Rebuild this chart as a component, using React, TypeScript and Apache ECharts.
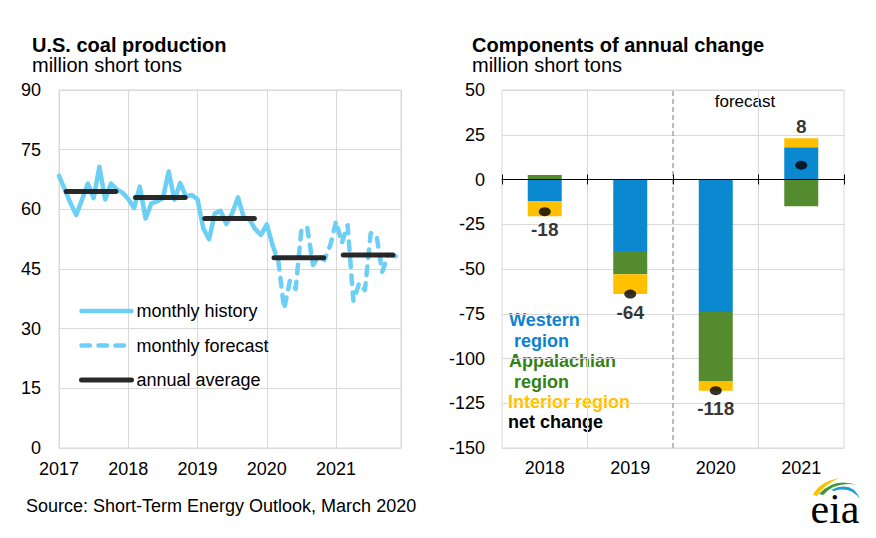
import React, { useEffect, useRef } from "react";
import * as echarts from "echarts";

// ---------- data ----------
const years = ["2017", "2018", "2019", "2020", "2021"];
const monthlyHistory = [
  68.4, 65, 61.5, 58.6, 62.5, 66.5, 62.8, 70.7, 62.5, 66.5, 65, 64.2,
  62.6, 60.3, 65.7, 57.7, 61.5, 62, 62.8, 69.5, 62.4, 66.6, 63.2, 63.6,
  62.5, 55.2, 52.5, 59, 59.6, 56.3, 59, 63, 58, 57.4, 55, 53.6,
  56.2, 51,
];
const forecastStartMonth = 37;
const monthlyForecast = [
  51, 47, 35, 42, 40, 55, 55.5, 46, 48.2, 47.3, 51,
  57, 51.5, 56, 37, 41.4, 39.7, 54, 53.5, 44.3, 48.5, 48.3, 48,
];
const annualAverage = [64.5, 63.0, 57.7, 47.8, 48.5];

const changeYears = ["2018", "2019", "2020", "2021"];
const westernRegion = [-12, -40, -74, 18];
const appalachianRegion = [2.5, -13, -38.5, -15];
const interiorRegion = [-8.5, -11, -5.5, 5];
const netChange = [-18, -64, -118, 8];

// ---------- styles ----------
const FONT = "'Liberation Sans', Arial, sans-serif";
const GRID_GRAY = "#d9d9d9";
const LIGHT_BLUE = "#6ccff6";
const BLUE = "#0a89d1";
const GREEN = "#548b2e";
const YELLOW = "#ffc000";

echarts.graphic.registerShape(
  "eiaYellow",
  echarts.graphic.extendPath("M813 495 Q819 482 839 478 Q824 485 817 496 Z", {})
);
echarts.graphic.registerShape(
  "eiaGreen",
  echarts.graphic.extendPath("M819 494 Q834 477 857 485 Q836 481 823 495 Z", {})
);
echarts.graphic.registerShape(
  "eiaBlue",
  echarts.graphic.extendPath("M831 490 Q852 480 860 499 Q850 486 834 491 Z", {})
);

function txt(text: string, x: number, y: number, size: number, weight: string, fill: string, align = "left") {
  return {
    type: "text",
    x,
    y,
    silent: true,
    style: {
      text,
      fontSize: size,
      fontWeight: weight,
      fontFamily: FONT,
      fill,
      align,
      verticalAlign: "middle",
    },
  };
}

export default function App() {
  const ref = useRef<HTMLDivElement>(null);

  useEffect(() => {
    document.body.style.margin = "0";
    if (!ref.current) return;
    const chart = echarts.init(ref.current, undefined, { renderer: "svg" });

    const annualSeries = annualAverage.map((v, i) => ({
      name: "annual average",
      type: "line",
      xAxisIndex: 0,
      yAxisIndex: 0,
      symbol: "none",
      z: 4,
      lineStyle: { color: "#1e1e1e", width: 5, cap: "round", opacity: 0.95 },
      data: [
        [i * 12 + 1.25, v],
        [i * 12 + 9.85, v],
      ],
    }));

    const option: any = {
      animation: false,
      textStyle: { fontFamily: FONT },
      grid: [
        { left: 59, top: 90, width: 342, height: 358, show: true, borderColor: GRID_GRAY, borderWidth: 1, containLabel: false },
        { left: 502, top: 90, width: 342, height: 358, show: true, borderColor: GRID_GRAY, borderWidth: 1, containLabel: false },
      ],
      legend: {
        left: 79,
        top: 302,
        padding: 0,
        orient: "vertical",
        itemWidth: 50,
        itemHeight: 14,
        itemGap: 16.5,
        selectedMode: false,
        textStyle: { fontSize: 18, color: "#000", fontFamily: FONT, lineHeight: 18 },
        data: [
          { name: "monthly history", itemStyle: { opacity: 0 }, lineStyle: { width: 4.5 } },
          { name: "monthly forecast", itemStyle: { opacity: 0 }, lineStyle: { width: 4.5 } },
          { name: "annual average", itemStyle: { opacity: 0 }, lineStyle: { width: 5 } },
        ],
      },
      xAxis: [
        {
          type: "value",
          gridIndex: 0,
          min: 0,
          max: 59.25,
          interval: 12,
          axisLine: { show: false },
          axisTick: { show: false },
          splitLine: { show: true, lineStyle: { color: GRID_GRAY, width: 1 } },
          axisLabel: {
            fontSize: 18,
            color: "#000",
            margin: 12,
            fontFamily: FONT,
            formatter: (v: number) => (v % 12 === 0 ? years[v / 12] : ""),
          },
        },
        {
          type: "category",
          gridIndex: 1,
          position: "bottom",
          data: changeYears,
          axisLine: { show: false, onZero: false },
          axisTick: { show: false },
          splitLine: { show: false },
          axisLabel: { fontSize: 18, color: "#000", margin: 11, fontFamily: FONT },
        },
        {
          type: "category",
          gridIndex: 1,
          position: "bottom",
          data: changeYears,
          z: 6,
          axisLine: { show: true, onZero: true, onZeroAxisIndex: 1, lineStyle: { color: "#000", width: 1 } },
          axisTick: { show: true, interval: 0, length: 5, inside: false, lineStyle: { color: "#000", width: 1 } },
          splitLine: { show: false },
          axisLabel: { show: false },
        },
        {
          type: "category",
          gridIndex: 1,
          position: "bottom",
          data: changeYears,
          z: 6,
          axisLine: { show: false, onZero: true, onZeroAxisIndex: 1 },
          axisTick: { show: true, interval: 0, length: 5, inside: true, lineStyle: { color: "#000", width: 1 } },
          splitLine: { show: false },
          axisLabel: { show: false },
        },
        {
          type: "value",
          gridIndex: 1,
          min: 0,
          max: changeYears.length,
          show: false,
          splitLine: { show: false },
        },
      ],
      yAxis: [
        {
          type: "value",
          gridIndex: 0,
          min: 0,
          max: 90,
          interval: 15,
          axisLine: { show: false },
          axisTick: { show: false },
          splitLine: { show: true, lineStyle: { color: GRID_GRAY, width: 1 } },
          axisLabel: { fontSize: 18, color: "#000", margin: 18, fontFamily: FONT },
        },
        {
          type: "value",
          gridIndex: 1,
          min: -150,
          max: 50,
          interval: 25,
          axisLine: { show: false },
          axisTick: { show: false },
          splitLine: { show: true, lineStyle: { color: GRID_GRAY, width: 1 } },
          axisLabel: { fontSize: 18, color: "#000", margin: 17, fontFamily: FONT },
        },
      ],
      series: [
        {
          name: "monthly history",
          type: "line",
          xAxisIndex: 0,
          yAxisIndex: 0,
          symbol: "none",
          z: 3,
          lineStyle: { color: LIGHT_BLUE, width: 4.5, cap: "round", join: "round" },
          itemStyle: { color: LIGHT_BLUE },
          data: monthlyHistory.map((v, i) => [i, v]),
        },
        {
          name: "monthly forecast",
          type: "line",
          xAxisIndex: 0,
          yAxisIndex: 0,
          symbol: "none",
          z: 3,
          lineStyle: { color: LIGHT_BLUE, width: 4.5, type: [8.5, 8.5], cap: "round", join: "round" },
          itemStyle: { color: LIGHT_BLUE },
          data: monthlyForecast.map((v, i) => [forecastStartMonth + i, v]),
        },
        ...annualSeries,
        {
          name: "Western region",
          type: "bar",
          stack: "total",
          xAxisIndex: 2,
          yAxisIndex: 1,
          barWidth: 34,
          itemStyle: { color: BLUE },
          data: westernRegion,
        },
        {
          name: "Appalachian region",
          type: "bar",
          stack: "total",
          xAxisIndex: 2,
          yAxisIndex: 1,
          barWidth: 34,
          itemStyle: { color: GREEN },
          data: appalachianRegion,
        },
        {
          name: "Interior region",
          type: "bar",
          stack: "total",
          xAxisIndex: 2,
          yAxisIndex: 1,
          barWidth: 34,
          itemStyle: { color: YELLOW },
          data: interiorRegion,
        },
        {
          name: "net change",
          type: "scatter",
          xAxisIndex: 2,
          yAxisIndex: 1,
          symbol: "circle",
          symbolSize: [12, 9],
          z: 7,
          itemStyle: { color: "#000" },
          label: {
            show: true,
            fontSize: 19,
            fontWeight: "bold",
            color: "#000",
            fontFamily: FONT,
            formatter: (p: any) => String(p.value),
          },
          data: netChange.map((v) => ({
            value: v,
            label: { position: v >= 0 ? "top" : "bottom", distance: v >= 0 ? 25 : 4 },
          })),
        },
        {
          name: "dividers",
          type: "line",
          xAxisIndex: 4,
          yAxisIndex: 1,
          symbol: "none",
          lineStyle: { opacity: 0 },
          data: [[0, 0]],
          z: 1,
          markLine: {
            silent: true,
            symbol: ["none", "none"],
            label: { show: false },
            data: [
              { xAxis: 1, lineStyle: { color: GRID_GRAY, type: "solid", width: 1 } },
              { xAxis: 3, lineStyle: { color: GRID_GRAY, type: "solid", width: 1 } },
              { xAxis: 2, lineStyle: { color: "#a6a6a6", type: [5, 3], width: 1.5 } },
            ],
          },
        },
      ],
      graphic: [
        txt("U.S. coal production", 32, 44.5, 20, "bold", "#000"),
        txt("million short tons", 32, 65, 20, "normal", "#000"),
        txt("Components of annual change", 472, 44.5, 20, "bold", "#000"),
        txt("million short tons", 472, 65, 20, "normal", "#000"),
        txt("forecast", 745, 101, 17, "normal", "#000", "center"),
        txt("Western", 509, 320, 18, "bold", "#0c83cf"),
        txt(" region", 509, 340.5, 18, "bold", "#0c83cf"),
        txt("Appalachian", 509, 361, 18, "bold", "#338214"),
        txt(" region", 509, 381.5, 18, "bold", "#338214"),
        txt("Interior region", 508, 402, 18, "bold", YELLOW),
        txt("net change", 508, 422, 18, "bold", "#000"),
        txt("Source: Short-Term Energy Outlook, March 2020", 26, 506, 18, "normal", "#000"),
        {
          type: "text",
          x: 835,
          y: 509,
          silent: true,
          style: {
            text: "eia",
            fontSize: 42,
            fontFamily: "'Liberation Serif', 'DejaVu Serif', serif",
            fill: "#000",
            align: "center",
            verticalAlign: "middle",
          },
        },
        { type: "eiaYellow", x: 0, y: 0, silent: true, style: { fill: "#f6c400" } },
        { type: "eiaGreen", x: 0, y: 0, silent: true, style: { fill: "#3c9a35" } },
        { type: "eiaBlue", x: 0, y: 0, silent: true, style: { fill: "#1d9ad6" } },
      ],
    };

    chart.setOption(option);
    return () => chart.dispose();
  }, []);

  return <div ref={ref} style={{ width: 876, height: 538 }} />;
}
